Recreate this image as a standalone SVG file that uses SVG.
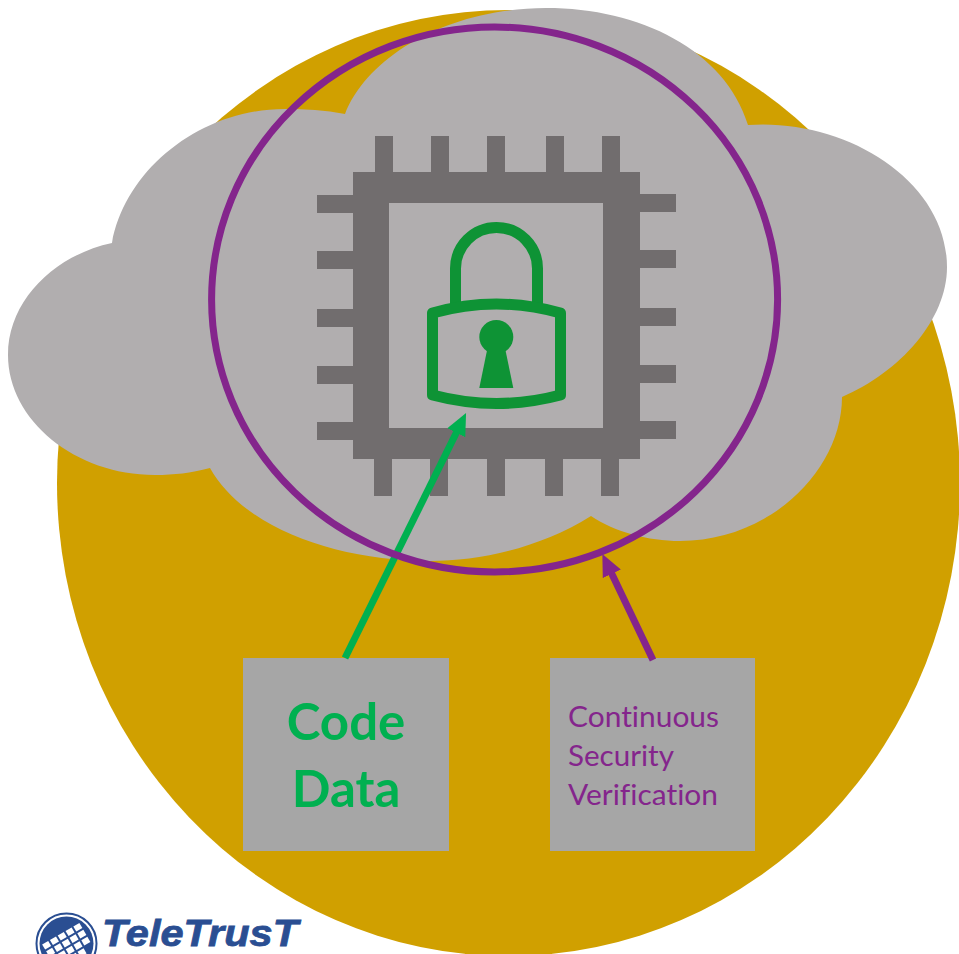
<svg xmlns="http://www.w3.org/2000/svg" width="959" height="954" viewBox="0 0 959 954">
<style>
.chip{fill:#716D6E}
.lockline{fill:none;stroke:#0E9335;stroke-width:11;stroke-linejoin:round}
.lockfill{fill:#0E9335}
.box{fill:#A6A6A6}
.big{font-family:"Lato","Liberation Sans",sans-serif;font-weight:700;font-size:51px;fill:#00B050;text-anchor:middle}
.small{font-family:"Lato","Liberation Sans",sans-serif;font-size:29px;fill:#84258C;font-variant-ligatures:none}
</style>
<defs>
<marker id="headG" markerUnits="userSpaceOnUse" markerWidth="24" markerHeight="22" refX="7" refY="10.5" orient="auto"><path d="M0,0.5 L22,10.5 L0,20.5 z" fill="#00B050"/></marker>
<marker id="headP" markerUnits="userSpaceOnUse" markerWidth="24" markerHeight="22" refX="7" refY="10.5" orient="auto"><path d="M0,0.5 L22,10.5 L0,20.5 z" fill="#84258C"/></marker>
<clipPath id="logoDisc"><circle cx="66.5" cy="943.5" r="27"/></clipPath>
</defs>
<rect width="959" height="954" fill="#FFFFFF"/>
<g id="backdrop-circle"><ellipse cx="508.5" cy="483" rx="451.5" ry="473" fill="#D0A000"/></g>
<g id="cloud"><path fill="#B1AEAF" d="M112,243 C125,170 200,109 285,109 C305,109 325,110 345,114 C368,55 450,8 546,8 C640,8 725,50 748,125 C845,118 947,180 947,267 C947,320 900,372 842,397 C842,470 770,541 680,541 C648,541 615,532 591,516 C540,548 480,561 430,561 C340,561 245,530 210,468 C190,473 175,475 155,475 C75,475 8,420 8,355 C8,300 55,255 112,243 Z"/></g>
<g id="chip" class="chip">
<path fill-rule="evenodd" d="M353,172H640V459H353Z M389,203V428H603V203Z"/>
<rect x="375" y="136" width="18" height="36"/><rect x="431" y="136" width="18" height="36"/><rect x="487" y="136" width="18" height="36"/><rect x="546" y="136" width="18" height="36"/><rect x="602" y="136" width="18" height="36"/>
<rect x="374" y="459" width="18" height="37"/><rect x="430" y="459" width="18" height="37"/><rect x="487" y="459" width="18" height="37"/><rect x="545" y="459" width="18" height="37"/><rect x="601" y="459" width="18" height="37"/>
<rect x="317" y="195" width="36" height="18"/><rect x="317" y="251" width="36" height="18"/><rect x="317" y="309" width="36" height="18"/><rect x="317" y="366" width="36" height="18"/><rect x="317" y="422" width="36" height="18"/>
<rect x="640" y="194" width="36" height="18"/><rect x="640" y="250" width="36" height="18"/><rect x="640" y="308" width="36" height="18"/><rect x="640" y="365" width="36" height="18"/><rect x="640" y="421" width="36" height="18"/>
</g>
<g id="lock">
<path class="lockline" d="M455.5,304 V268.5 A41,41 0 0 1 537.5,268.5 V304"/>
<path class="lockline" d="M432.5,313 Q496.5,295 560.5,313 L560.5,395 Q496.5,412 432.5,395 Z"/>
<circle class="lockfill" cx="496.3" cy="337" r="17"/>
<path class="lockfill" d="M487.5,348 H505 L513.3,388 H479.3 Z"/>
</g>
<g id="box-code-data">
<rect class="box" x="243" y="658" width="206" height="193"/>
<text class="big" x="346" y="740">Code</text>
<text class="big" x="346" y="807">Data</text>
</g>
<g id="box-verification">
<rect class="box" x="550" y="658" width="205" height="193"/>
<text class="small" x="568" y="727" textLength="151" lengthAdjust="spacingAndGlyphs">Continuous</text>
<text class="small" x="568" y="766" textLength="106" lengthAdjust="spacingAndGlyphs">Security</text>
<text class="small" x="568" y="805" textLength="150" lengthAdjust="spacingAndGlyphs">Verification</text>
</g>
<g id="connectors" fill="none">
<line x1="345" y1="658" x2="459.4" y2="426.5" stroke="#00B050" stroke-width="7" marker-end="url(#headG)"/>
<line x1="653" y1="660" x2="608.8" y2="567.5" stroke="#84258C" stroke-width="7" marker-end="url(#headP)"/>
</g>
<g id="enclave-ring"><ellipse cx="494.6" cy="299.5" rx="283" ry="272.5" fill="none" stroke="#84258C" stroke-width="7"/></g>
<g id="logo">
<circle cx="66.5" cy="943.5" r="30" fill="none" stroke="#2A4E92" stroke-width="2"/>
<circle cx="66.5" cy="943.5" r="27" fill="#2A4E92"/>
<g clip-path="url(#logoDisc)"><g transform="translate(80,926) rotate(-30)" fill="#FFFFFF">
<rect x="-42" y="-3" width="7" height="6"/><rect x="-33" y="-3" width="7" height="6"/><rect x="-24" y="-3" width="7" height="6"/><rect x="-15" y="-3" width="7" height="6"/><rect x="-6" y="-3" width="7" height="6"/>
<rect x="-42" y="5" width="7" height="6"/><rect x="-33" y="5" width="7" height="6"/><rect x="-24" y="5" width="7" height="6"/><rect x="-15" y="5" width="7" height="6"/><rect x="-6" y="5" width="7" height="6"/>
<rect x="-42" y="13" width="7" height="6"/><rect x="-33" y="13" width="7" height="6"/><rect x="-24" y="13" width="7" height="6"/><rect x="-15" y="13" width="7" height="6"/><rect x="-6" y="13" width="7" height="6"/>
<rect x="-33" y="21" width="7" height="6"/><rect x="-24" y="21" width="7" height="6"/><rect x="-15" y="21" width="7" height="6"/>
</g></g>
<text x="102" y="946" font-family="'Liberation Sans',Arial,sans-serif" font-weight="700" font-style="italic" font-size="37.5" fill="#2A4E92" stroke="#2A4E92" stroke-width="0.8" textLength="196" lengthAdjust="spacingAndGlyphs">TeleTrusT</text>
</g>
</svg>
